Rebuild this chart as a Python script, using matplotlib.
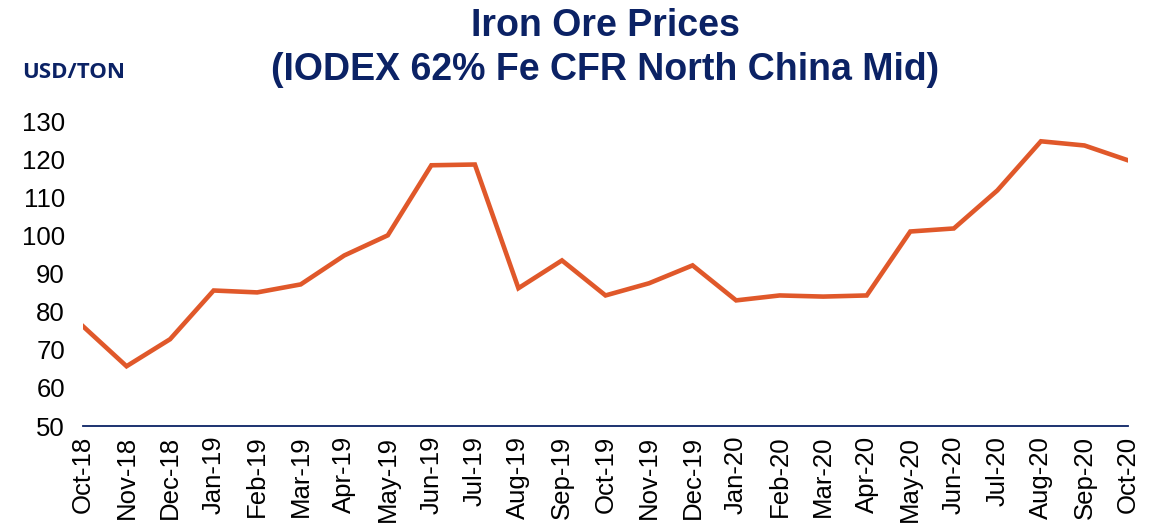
import matplotlib
matplotlib.use("Agg")
import matplotlib.pyplot as plt

# monthly IODEX 62% Fe CFR North China mid, USD/ton
months = ["Oct-18", "Nov-18", "Dec-18", "Jan-19", "Feb-19", "Mar-19", "Apr-19",
          "May-19", "Jun-19", "Jul-19", "Aug-19", "Sep-19", "Oct-19", "Nov-19",
          "Dec-19", "Jan-20", "Feb-20", "Mar-20", "Apr-20", "May-20", "Jun-20",
          "Jul-20", "Aug-20", "Sep-20", "Oct-20"]
prices = [76.2, 65.7, 72.8, 85.6, 85.1, 87.2, 94.8, 100.1, 118.5, 118.7,
          86.2, 93.5, 84.3, 87.5, 92.2, 83.0, 84.3, 84.0, 84.3, 101.1,
          101.9, 111.9, 124.8, 123.7, 119.8]
y_ticks = [50, 60, 70, 80, 90, 100, 110, 120, 130]

navy = "#0B2265"
orange = "#E0582A"

plt.rcParams["font.family"] = ["Liberation Sans", "DejaVu Sans"]

W, H = 1165, 523
fig = plt.figure(figsize=(W / 100, H / 100), dpi=100)
ax = fig.add_axes([83 / W, 1 - 426 / H, (1128 - 83) / W, (426 - 121.5) / H])

x = list(range(len(months)))
ax.plot(x, prices, color=orange, linewidth=3.3, solid_joinstyle="miter")

ax.set_xlim(0, len(months) - 1)
ax.set_ylim(50, 130)
ax.set_yticks(y_ticks)
ax.set_xticks(x)
ax.set_xticklabels(months, rotation=90)
ax.tick_params(axis="both", length=0, labelsize=18.5, colors="black")
ax.tick_params(axis="y", pad=13)
ax.tick_params(axis="x", pad=7)

for s in ["top", "right", "left"]:
    ax.spines[s].set_visible(False)
ax.spines["bottom"].set_color(navy)
ax.spines["bottom"].set_linewidth(1.3)
ax.spines["bottom"].set_zorder(0)

# two-line title, placed by baseline
fig.text(605 / W, 1 - 36 / H, "Iron Ore Prices", ha="center", va="baseline",
         fontsize=27, fontweight="bold", color=navy)
fig.text(605 / W, 1 - 80 / H, "(IODEX 62% Fe CFR North China Mid)", ha="center",
         va="baseline", fontsize=27, fontweight="bold", color=navy)
fig.text(22 / W, 1 - 78 / H, "USD/TON", ha="left", va="baseline",
         fontsize=16, fontweight="bold", color=navy,
         family=["Open Sans", "DejaVu Sans"])

fig.savefig("out.png", dpi=100)
